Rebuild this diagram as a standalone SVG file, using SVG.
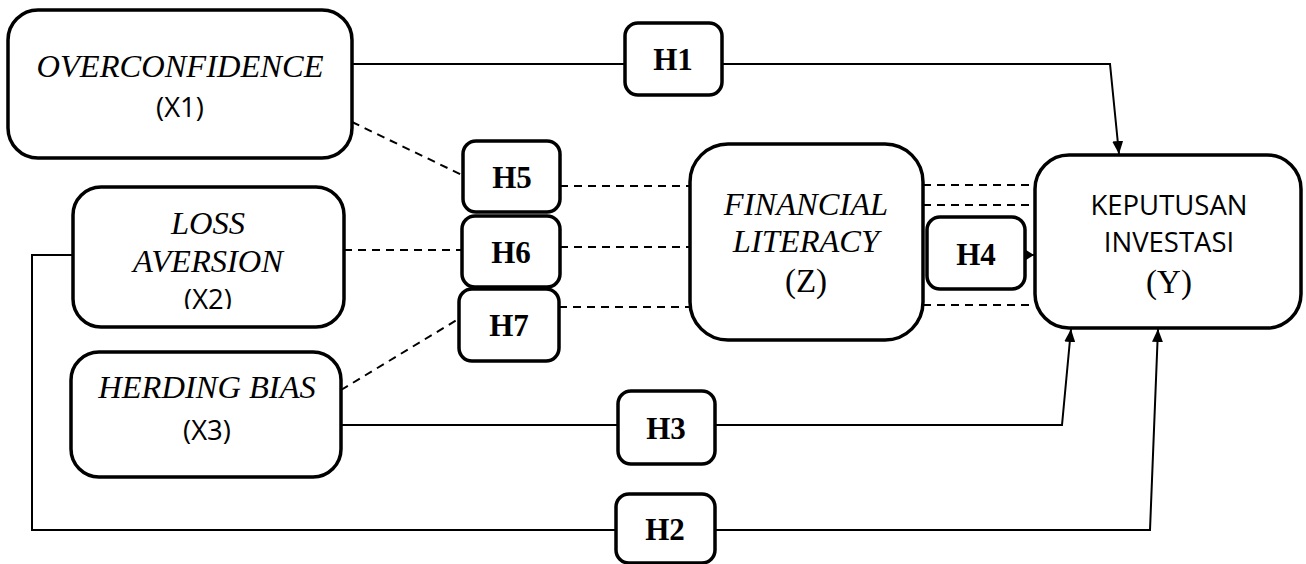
<svg xmlns="http://www.w3.org/2000/svg" width="1306" height="564" viewBox="0 0 1306 564">
<style>
.box{fill:#fff;stroke:#000;stroke-width:3.5}
.hb{fill:#fff;stroke:#000;stroke-width:3.5}
.ln{fill:none;stroke:#000;stroke-width:2}
.ds{fill:none;stroke:#000;stroke-width:2;stroke-dasharray:8,6}
.it{font-family:"Liberation Serif",serif;font-style:italic;font-size:32.5px;text-anchor:middle}
.sr{font-family:"Liberation Serif",serif;font-size:33px;text-anchor:middle}
.ss{font-family:"Open Sans","Liberation Sans",sans-serif;font-size:27.5px;text-anchor:middle}
.hl{font-family:"Liberation Serif",serif;font-weight:bold;font-size:31px;text-anchor:middle}
</style>
<defs>
<marker id="arr" viewBox="0 0 13 11" refX="13" refY="5.5" markerWidth="13" markerHeight="11" markerUnits="userSpaceOnUse" orient="auto">
<path d="M0,0 L13,5.5 L0,11 Z" fill="#000"/>
</marker>
<marker id="arr4" viewBox="0 0 12 15" refX="12" refY="7.5" markerWidth="12" markerHeight="15" markerUnits="userSpaceOnUse" orient="auto">
<path d="M0,0 L12,7.5 L0,15 Z" fill="#000"/>
</marker>
<clipPath id="clipX2"><rect x="0" y="0" width="1306" height="309"/></clipPath>
</defs>
<g id="connectors">
<path class="ln" d="M352,64 L625,64 M722,64 L1110,64 L1119,154" marker-end="url(#arr)"/>
<path class="ln" d="M341,425 L618,425 M715,425 L1062,425 L1071,329" marker-end="url(#arr)"/>
<path class="ln" d="M73,255 L32,255 L32,530 L616,530 M715,530 L1150,530 L1158,329" marker-end="url(#arr)"/>
<path class="ln" d="M1025,255 L1034,255" marker-end="url(#arr4)"/>
<path class="ds" d="M352,122 L462,175"/>
<path class="ds" d="M344,250 L462,250"/>
<path class="ds" d="M341,390 L460,318"/>
<path class="ds" d="M560,186 L690,186"/>
<path class="ds" d="M560,247 L690,247"/>
<path class="ds" d="M559,307 L690,307"/>
<path class="ds" d="M923,185 L1035,185"/>
<path class="ds" d="M923,205 L1035,205"/>
<path class="ds" d="M923,305 L1035,305"/>
</g>
<g id="x1">
<rect class="box" x="8" y="10" width="344" height="148" rx="30"/>
<text class="it" x="180" y="77">OVERCONFIDENCE</text>
<text class="ss" x="180" y="117">(X1)</text>
</g>
<g id="x2">
<rect class="box" x="73" y="187" width="271" height="140" rx="28"/>
<text class="it" x="208" y="234">LOSS</text>
<text class="it" x="208" y="272">AVERSION</text>
<text class="ss" x="208" y="309" clip-path="url(#clipX2)">(X2)</text>
</g>
<g id="x3">
<rect class="box" x="71" y="352" width="270" height="125" rx="28"/>
<text class="it" x="207" y="398">HERDING BIAS</text>
<text class="ss" x="207" y="440">(X3)</text>
</g>
<g id="z">
<rect class="box" x="690" y="144" width="233" height="196" rx="38"/>
<text class="it" x="806" y="215">FINANCIAL</text>
<text class="it" x="806" y="252">LITERACY</text>
<text class="sr" x="806" y="292">(Z)</text>
</g>
<g id="y">
<rect class="box" x="1035" y="155" width="266" height="173" rx="34"/>
<text class="ss" x="1169" y="215">KEPUTUSAN</text>
<text class="ss" x="1169" y="252">INVESTASI</text>
<text class="sr" x="1169" y="293">(Y)</text>
</g>
<g id="h1"><rect class="hb" x="625" y="23" width="97" height="72" rx="13"/><text class="hl" x="673" y="70">H1</text></g>
<g id="h5"><rect class="hb" x="463" y="141" width="97" height="71" rx="13"/><text class="hl" x="512" y="188">H5</text></g>
<g id="h6"><rect class="hb" x="462" y="216" width="98" height="71" rx="13"/><text class="hl" x="511" y="263">H6</text></g>
<g id="h7"><rect class="hb" x="459" y="289" width="100" height="72" rx="13"/><text class="hl" x="509" y="336">H7</text></g>
<g id="h4"><rect class="hb" x="927" y="217" width="98" height="72" rx="13"/><text class="hl" x="976" y="265">H4</text></g>
<g id="h3"><rect class="hb" x="618" y="391" width="97" height="73" rx="13"/><text class="hl" x="666" y="439">H3</text></g>
<g id="h2"><rect class="hb" x="616" y="494" width="99" height="69" rx="13"/><text class="hl" x="665" y="540">H2</text></g>
</svg>
